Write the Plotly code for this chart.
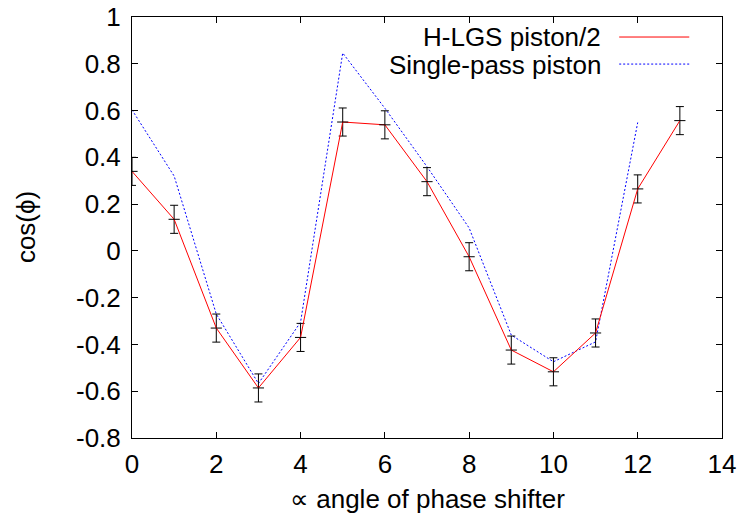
import plotly.graph_objects as go

# ---- data ----
x_hlgs = [0, 1, 2, 3, 4, 5, 6, 7, 8, 9, 10, 11, 12, 13]
y_hlgs = [0.34, 0.135, -0.33, -0.586, -0.37, 0.551, 0.539, 0.296, -0.025, -0.424, -0.517, -0.351, 0.265, 0.557]
err_hlgs = [0.06, 0.06, 0.06, 0.06, 0.06, 0.06, 0.06, 0.06, 0.06, 0.06, 0.06, 0.06, 0.06, 0.06]

x_single = [0, 1, 2, 3, 4, 5, 6, 7, 8, 9, 10, 11, 12]
y_single = [0.603, 0.32, -0.27, -0.567, -0.305, 0.846, 0.61, 0.36, 0.098, -0.36, -0.474, -0.389, 0.549]

x_ticks = [0, 2, 4, 6, 8, 10, 12, 14]
x_ticktext = ["0", "2", "4", "6", "8", "10", "12", "14"]
y_ticks = [-0.8, -0.6, -0.4, -0.2, 0, 0.2, 0.4, 0.6, 0.8, 1]
y_ticktext = ["-0.8", "-0.6", "-0.4", "-0.2", "0", "0.2", "0.4", "0.6", "0.8", "1"]

legend_names = ["H-LGS piston/2", "Single-pass piston"]

FONT = "Liberation Sans, Arial, sans-serif"
FS = 26

fig = go.Figure()

fig.add_trace(go.Scatter(
    x=x_single, y=y_single, mode="lines",
    line=dict(color="#0000ff", width=1, dash="2px,2px"),
    name=legend_names[1], showlegend=False,
))

fig.add_trace(go.Scatter(
    x=x_hlgs, y=y_hlgs, mode="lines+markers",
    line=dict(color="#ff0000", width=1),
    marker=dict(symbol="line-ew", size=8, color="black",
                line=dict(color="black", width=1)),
    error_y=dict(type="data", array=err_hlgs, visible=True,
                 color="black", thickness=1, width=4),
    name=legend_names[0], showlegend=False,
))

# body margin is removed in the page (post_script), so figure fills the window
W, H = 743, 520
# plot area in page pixels
PX0, PX1, PY0, PY1 = 132.3, 721.7, 17.3, 437.7
L, R, T, B = PX0, W - PX1, PY0, H - PY1
pw = PX1 - PX0
ph = PY1 - PY0

def px_x(p):
    return (p - PX0) / pw

def px_y(p):
    return (PY1 - p) / ph

# manual legend (text on left, sample on right)
rows = [(legend_names[0], 36.8, 37.3, dict(color="#ff0000", width=1)),
        (legend_names[1], 64.8, 64.3, dict(color="#0000ff", width=1, dash="2px,2px"))]
annotations = []
shapes = []
for name, yt, yc, ln in rows:
    annotations.append(dict(
        x=px_x(603), y=px_y(yt), xref="paper", yref="paper",
        text=name, showarrow=False, xanchor="right", yanchor="middle",
        font=dict(family=FONT, size=FS, color="black"),
    ))
    shapes.append(dict(
        type="line", xref="paper", yref="paper",
        x0=px_x(619), x1=px_x(689), y0=px_y(yc), y1=px_y(yc),
        line=ln,
    ))

annotations.append(dict(
    x=0.5, y=px_y(499), xref="paper", yref="paper",
    text="∝ angle of phase shifter", showarrow=False,
    xanchor="center", yanchor="middle",
    font=dict(family=FONT, size=FS, color="black"),
))
annotations.append(dict(
    x=px_x(26), y=0.5, xref="paper", yref="paper",
    text="cos(ϕ)", showarrow=False, textangle=-90,
    xanchor="center", yanchor="middle",
    font=dict(family=FONT, size=FS, color="black"),
))

fig.update_layout(
    width=W, height=H,
    margin=dict(l=L, r=R, t=T, b=B, autoexpand=False),
    paper_bgcolor="white", plot_bgcolor="white",
    font=dict(family=FONT, size=FS, color="black"),
    annotations=annotations, shapes=shapes,
    showlegend=False,
)

axis_common = dict(
    showgrid=False, zeroline=False, automargin=False,
    showline=True, linecolor="black", linewidth=1, mirror="allticks",
    ticks="inside", ticklen=6, tickcolor="black", tickwidth=1,
    tickfont=dict(family=FONT, size=FS, color="black"),
    ticklabeloverflow="allow",
)

fig.update_xaxes(range=[0, 14], tickvals=x_ticks, ticktext=x_ticktext,
                 ticklabelstandoff=3, **axis_common)
fig.update_yaxes(range=[-0.8, 1], tickvals=y_ticks, ticktext=y_ticktext,
                 ticklabelstandoff=5, **axis_common)

fig.write_html(
    "out.html",
    config={"displayModeBar": False},
    post_script="document.body.style.margin='0';document.body.style.overflow='hidden';",
)
